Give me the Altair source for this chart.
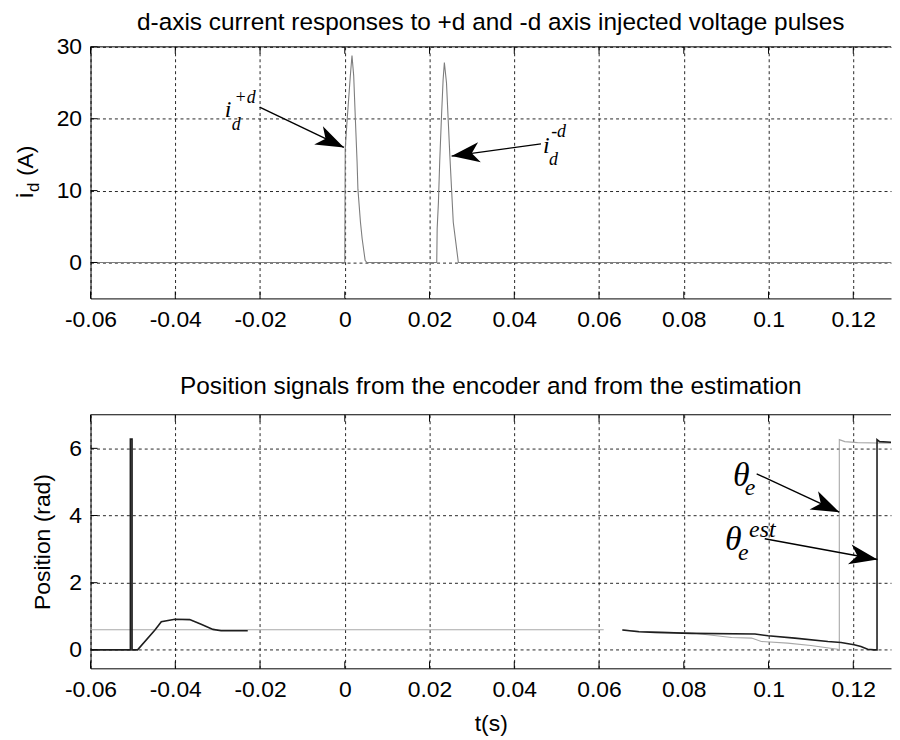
import altair as alt
import pandas as pd

# ---------------- data ----------------
# top panel: d-axis current response (A) versus time (s)
id_t = [-0.06, 0.0, 0.0001, 0.0006, 0.0013, 0.0017, 0.0021, 0.0025, 0.0029, 0.0031,
        0.0037, 0.0041, 0.0048, 0.0052, 0.0217, 0.0218, 0.0221, 0.0224, 0.0228, 0.0232,
        0.0235, 0.0240, 0.0244, 0.0248, 0.0252, 0.0256, 0.0262, 0.0268, 0.1289]
id_a = [0, 0, 15.8, 20.2, 25.9, 28.8, 26.0, 19.9, 14.0, 10.2,
        5.6, 3.3, 0.3, 0, 0, 4.7, 8.4, 14.0, 20.0, 25.4,
        27.8, 25.0, 19.9, 14.8, 10.2, 5.6, 2.8, 0, 0]

# bottom panel: estimated position (dark trace), two segments
est_t1 = [-0.06, -0.0506, -0.0506, -0.0502, -0.0502, -0.0489, -0.0448, -0.0433,
          -0.0401, -0.0366, -0.0339, -0.0311, -0.0292, -0.0229]
est_v1 = [0, 0, 6.28, 6.28, 0, 0, 0.59, 0.84, 0.91, 0.90, 0.76, 0.61, 0.57, 0.57]
est_t2 = [0.0655, 0.0694, 0.0733, 0.0819, 0.0968, 0.0999, 0.1062, 0.1140, 0.1171,
          0.1202, 0.1218, 0.1234, 0.1249, 0.1256, 0.1256, 0.1262, 0.1289]
est_v2 = [0.59, 0.54, 0.52, 0.49, 0.47, 0.42, 0.35, 0.25, 0.22,
          0.15, 0.10, 0.02, 0.0, 0.0, 6.26, 6.20, 6.18]

# bottom panel: encoder position (light trace), two segments
enc_t1 = [-0.06, 0.0611]
enc_v1 = [0.60, 0.60]
enc_t2 = [0.0655, 0.0694, 0.0819, 0.0913, 0.0960, 0.0983, 0.1045, 0.1100, 0.1163,
          0.1167, 0.1167, 0.1180, 0.1210, 0.1289]
enc_v2 = [0.60, 0.55, 0.50, 0.37, 0.35, 0.25, 0.20, 0.13, 0.02,
          0.0, 6.26, 6.20, 6.17, 6.15]

x_ticks = [-0.06, -0.04, -0.02, 0, 0.02, 0.04, 0.06, 0.08, 0.1, 0.12]
id_ticks = [0, 10, 20, 30]
pos_ticks = [0, 2, 4, 6]
x_domain = [-0.06, 0.1289]
id_domain = [-5, 30]
pos_domain = [-0.55, 7]

title_top = "d-axis current responses to +d and -d axis injected voltage pulses"
title_bot = "Position signals from the encoder and from the estimation"
x_title = "t(s)"
y_title_bot = "Position (rad)"

# annotations (data coordinates)
top_txt = ["i", "+d", "d", "i", "-d", "d"]
top_txt_t = [-0.0283, -0.0260, -0.0267, 0.0468, 0.0487, 0.0482]
top_txt_v = [20.2, 22.2, 18.5, 15.3, 17.4, 13.5]
top_txt_fs = [24, 18, 18, 24, 18, 18]
top_arr_t = [-0.0201, 0.0463]
top_arr_v = [21.6, 16.5]
top_arr_t2 = [-0.0002, 0.0252]
top_arr_v2 = [16.0, 14.8]
top_arr_ang = [25.5, 172.2]

bot_txt = ["θ", "e", "θ", "est", "e"]
bot_txt_t = [0.0916, 0.0944, 0.0897, 0.0954, 0.0928]
bot_txt_v = [4.89, 4.62, 2.96, 3.35, 2.67]
bot_txt_fs = [34, 24, 34, 24, 24]
bot_arr_t = [0.0972, 0.0991]
bot_arr_v = [5.24, 3.31]
bot_arr_t2 = [0.1167, 0.1257]
bot_arr_v2 = [4.10, 2.69]
bot_arr_ang = [24.9, 10.5]

# ---------------- styling ----------------
FONT = "Liberation Sans"
SERIF = "Liberation Serif"
W = 805
H_TOP = 253
H_BOT = 255
TL = 7
ARROW = "M0,0 L-2,-0.72 L-1.45,0 L-2,0.72 Z"


def xenc(title=None, field="t"):
    return alt.X(f"{field}:Q", title=title,
                 scale=alt.Scale(domain=x_domain, nice=False, zero=False),
                 axis=alt.Axis(values=x_ticks, labelExpr="datum.value + ''",
                               titlePadding=12))


def yenc(domain, ticks, title=None, field="v", tpad=14):
    return alt.Y(f"{field}:Q", title=title,
                 scale=alt.Scale(domain=domain, nice=False, zero=False),
                 axis=alt.Axis(values=ticks, titlePadding=tpad))


def frame_layers(H, ydomain, yticks, xtitle, ytitle):
    xt = pd.DataFrame({"t": x_ticks})
    yt = pd.DataFrame({"v": yticks})
    bottom = alt.Chart(xt).mark_rule(color="black", strokeWidth=1).encode(
        x=xenc(xtitle), y=alt.value(H), y2=alt.value(H - TL))
    top = alt.Chart(xt).mark_rule(color="black", strokeWidth=1).encode(
        x=xenc(xtitle), y=alt.value(0), y2=alt.value(TL))
    left = alt.Chart(yt).mark_rule(color="black", strokeWidth=1).encode(
        y=yenc(ydomain, yticks, ytitle), x=alt.value(0), x2=alt.value(TL))
    border = alt.Chart(pd.DataFrame({"a": [0]})).mark_rule(
        color="black", strokeWidth=1).encode(y=alt.datum(ydomain[1]))
    return [bottom, top, left, border]


def annot_layers(ts, vs, t2s, v2s, angs, txt, txt_t, txt_v, txt_fs,
                 ydomain, yticks, xtitle, ytitle):
    arr = pd.DataFrame({"t": ts, "v": vs, "t2": t2s, "v2": v2s, "ang": angs})
    lines = alt.Chart(arr).mark_rule(color="black", strokeWidth=1.4).encode(
        x=xenc(xtitle), y=yenc(ydomain, yticks, ytitle), x2="t2:Q", y2="v2:Q")
    heads = alt.Chart(arr).mark_point(shape=ARROW, filled=True, color="black",
                                      opacity=1, size=800, strokeWidth=0).encode(
        x=xenc(xtitle, "t2"), y=yenc(ydomain, yticks, ytitle, "v2"),
        angle=alt.Angle("ang:Q", scale=None))
    tx = pd.DataFrame({"t": txt_t, "v": txt_v, "txt": txt, "fs": txt_fs})
    texts = alt.Chart(tx).mark_text(align="left", baseline="alphabetic", font=SERIF,
                                    fontStyle="italic", color="black").encode(
        x=xenc(xtitle), y=yenc(ydomain, yticks, ytitle), text="txt:N",
        size=alt.Size("fs:Q", scale=None, legend=None))
    return [lines, heads, texts]


# ---------------- top panel ----------------
top_df = pd.DataFrame({"t": id_t, "v": id_a})
top_line = alt.Chart(top_df).mark_line(color="#7d7d7d", strokeWidth=1.1, clip=True).encode(
    x=xenc(), y=yenc(id_domain, id_ticks))

one = pd.DataFrame({"a": [0]})
ylab_i = alt.Chart(one).mark_text(text="i", angle=270, align="left", baseline="alphabetic",
                                  font=FONT, fontSize=24, color="black").encode(
    x=alt.value(-58), y=alt.value(152))
ylab_d = alt.Chart(one).mark_text(text="d", angle=270, align="left", baseline="alphabetic",
                                  font=FONT, fontSize=17, color="black").encode(
    x=alt.value(-52), y=alt.value(146))
ylab_a = alt.Chart(one).mark_text(text="(A)", angle=270, align="left", baseline="alphabetic",
                                  font=FONT, fontSize=23, color="black").encode(
    x=alt.value(-58), y=alt.value(130))

top_chart = alt.layer(
    top_line,
    *frame_layers(H_TOP, id_domain, id_ticks, None, None),
    *annot_layers(top_arr_t, top_arr_v, top_arr_t2, top_arr_v2, top_arr_ang,
                  top_txt, top_txt_t, top_txt_v, top_txt_fs, id_domain, id_ticks, None, None),
    ylab_i, ylab_d, ylab_a,
).properties(width=W, height=H_TOP,
             title=alt.TitleParams(title_top, offset=0))

# ---------------- bottom panel ----------------
enc_df = pd.DataFrame({
    "t": enc_t1 + enc_t2, "v": enc_v1 + enc_v2,
    "seg": [0] * len(enc_t1) + [1] * len(enc_t2),
    "idx": list(range(len(enc_t1) + len(enc_t2)))})
est_df = pd.DataFrame({
    "t": est_t1 + est_t2, "v": est_v1 + est_v2,
    "seg": [0] * len(est_t1) + [1] * len(est_t2),
    "idx": list(range(len(est_t1) + len(est_t2)))})

enc_line = alt.Chart(enc_df).mark_line(color="#a8a8a8", strokeWidth=1.1, clip=True).encode(
    x=xenc(x_title), y=yenc(pos_domain, pos_ticks, y_title_bot),
    detail="seg:N", order="idx:Q")
est_line = alt.Chart(est_df).mark_line(color="#1e1e1e", strokeWidth=1.6, clip=True).encode(
    x=xenc(x_title), y=yenc(pos_domain, pos_ticks, y_title_bot),
    detail="seg:N", order="idx:Q")

bot_chart = alt.layer(
    enc_line, est_line,
    *frame_layers(H_BOT, pos_domain, pos_ticks, x_title, y_title_bot),
    *annot_layers(bot_arr_t, bot_arr_v, bot_arr_t2, bot_arr_v2, bot_arr_ang,
                  bot_txt, bot_txt_t, bot_txt_v, bot_txt_fs, pos_domain, pos_ticks,
                  x_title, y_title_bot),
).properties(width=W, height=H_BOT,
             title=alt.TitleParams(title_bot, offset=15))

chart = alt.vconcat(top_chart, bot_chart, spacing=43).properties(
    padding={"left": 6, "top": 0, "right": 0, "bottom": 0}
).configure_view(strokeWidth=0).configure_axis(
    labelFont=FONT, labelFontSize=23, labelColor="black", labelPadding=10,
    labelFlush=False, labelOverlap=False,
    titleFont=FONT, titleFontSize=23, titleFontWeight="normal", titleColor="black",
    ticks=False, tickSize=0,
    domain=True, domainColor="black", domainWidth=1,
    grid=True, gridDash=[3, 3], gridColor="black", gridWidth=1, gridOpacity=0.85,
).configure_axisY(labelPadding=9).configure_title(
    font=FONT, fontSize=24.5, fontWeight="normal", color="black",
    anchor="middle", frame="group")

chart.save("out.html", embed_options={"renderer": "svg", "actions": False})
